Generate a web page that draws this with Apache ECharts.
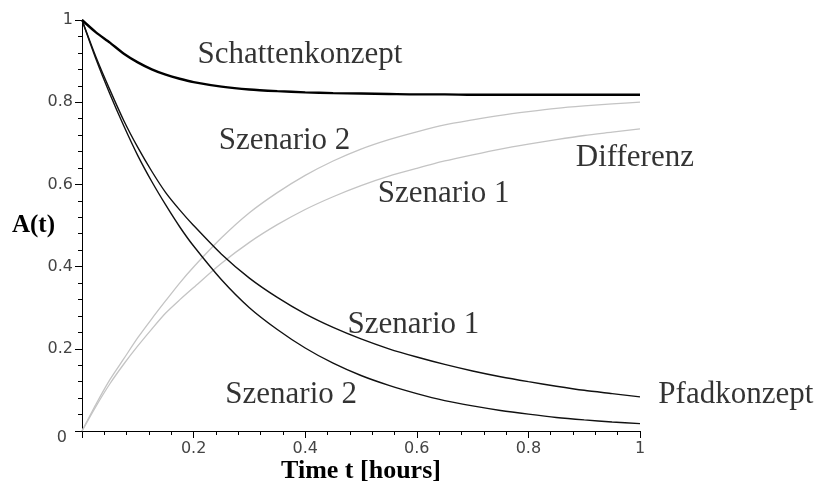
<!DOCTYPE html>
<html>
<head>
<meta charset="utf-8">
<script src="https://cdn.jsdelivr.net/npm/echarts@6/dist/echarts.min.js"></script>
<style>
html,body{margin:0;padding:0;background:#fff;}
#chart{width:820px;height:484px;}
</style>
</head>
<body>
<div id="chart"></div>
<script>
// time grid (hours)
const tValues = [0, 0.025, 0.05, 0.075, 0.1, 0.125, 0.15, 0.175, 0.2, 0.25, 0.3, 0.35, 0.4, 0.45, 0.5, 0.55, 0.6, 0.65, 0.7, 0.75, 0.8, 0.85, 0.9, 0.95, 1.0];
// Schattenkonzept (thick black)
const schatten = [1.0, 0.97, 0.945, 0.918, 0.897, 0.88, 0.867, 0.857, 0.849, 0.838, 0.831, 0.827, 0.824, 0.822, 0.821, 0.820, 0.819, 0.819, 0.818, 0.818, 0.818, 0.818, 0.818, 0.818, 0.818];
// Pfadkonzept Szenario 1 / Szenario 2 (black)
const pfad1 = [1.0, 0.91, 0.83, 0.755, 0.69, 0.632, 0.58, 0.538, 0.50, 0.43, 0.372, 0.325, 0.285, 0.252, 0.224, 0.200, 0.180, 0.162, 0.146, 0.132, 0.120, 0.109, 0.099, 0.091, 0.083];
const pfad2 = [1.0, 0.905, 0.82, 0.742, 0.67, 0.607, 0.55, 0.497, 0.45, 0.368, 0.30, 0.247, 0.202, 0.165, 0.135, 0.111, 0.091, 0.074, 0.061, 0.050, 0.041, 0.033, 0.027, 0.022, 0.018];
// Differenz Szenario 1 / Szenario 2 (grey)
const diff1 = [0, 0.06, 0.115, 0.163, 0.207, 0.248, 0.287, 0.319, 0.349, 0.408, 0.459, 0.502, 0.539, 0.570, 0.597, 0.620, 0.639, 0.657, 0.672, 0.686, 0.698, 0.709, 0.719, 0.727, 0.735];
const diff2 = [0, 0.065, 0.125, 0.176, 0.227, 0.273, 0.317, 0.36, 0.399, 0.47, 0.531, 0.58, 0.622, 0.657, 0.686, 0.709, 0.728, 0.745, 0.757, 0.768, 0.777, 0.785, 0.791, 0.796, 0.80];
// tick labels
const xTickLabels = ['', '0.2', '0.4', '0.6', '0.8', '1'];
const yTickLabels = ['0', '0.2', '0.4', '0.6', '0.8', '1'];
// annotation texts: [t, value (left-middle anchor), text]
const annoT = [0.206, 0.244, 0.529, 0.884, 0.475, 0.256, 1.032];
const annoV = [0.914, 0.707, 0.578, 0.665, 0.259, 0.089, 0.087];
const annoText = ['Schattenkonzept', 'Szenario 2', 'Szenario 1', 'Differenz', 'Szenario 1', 'Szenario 2', 'Pfadkonzept'];

const pairs = arr => tValues.map((t, i) => [t, arr[i]]);
const chart = echarts.init(document.getElementById('chart'), null, {renderer: 'canvas'});

function lineSeries(name, arr, color, width) {
  return {
    name: name, type: 'line', data: pairs(arr), showSymbol: false, symbol: 'none',
    smooth: 0.25, silent: true,
    lineStyle: {color: color, width: width}
  };
}

const option = {
  animation: false,
  backgroundColor: '#ffffff',
  grid: {left: 82, right: 180, top: 20, bottom: 53, containLabel: false, outerBoundsMode: 'none'},
  xAxis: {
    type: 'value', min: 0, max: 1, interval: 0.2,
    name: 'Time t [hours]', nameLocation: 'middle', nameGap: 27, nameMoveOverlap: false,
    nameTextStyle: {fontFamily: 'Liberation Serif', fontWeight: 'bold', fontSize: 26, color: '#000'},
    axisLine: {show: true, onZero: false, lineStyle: {color: '#000', width: 1}},
    axisTick: {show: true, length: 7, lineStyle: {color: '#000'}},
    minorTick: {show: true, splitNumber: 5, length: 4, lineStyle: {color: '#000'}},
    splitLine: {show: false},
    axisLabel: {
      margin: 10, fontFamily: 'DejaVu Sans', fontSize: 16, color: '#444',
      formatter: v => xTickLabels[Math.round(v / 0.2)]
    }
  },
  yAxis: {
    type: 'value', min: 0, max: 1, interval: 0.2,
    name: 'A(t)', nameLocation: 'middle', nameGap: 27, nameRotate: 0, nameMoveOverlap: false,
    nameTextStyle: {fontFamily: 'Liberation Serif', fontWeight: 'bold', fontSize: 25, color: '#000'},
    axisLine: {show: true, onZero: false, lineStyle: {color: '#000', width: 1}},
    axisTick: {show: true, length: 7, lineStyle: {color: '#000'}},
    minorTick: {show: true, splitNumber: 5, length: 4, lineStyle: {color: '#000'}},
    splitLine: {show: false},
    axisLabel: {
      margin: 9, fontFamily: 'DejaVu Sans', fontSize: 16, color: '#444',
      formatter: v => {
        const i = Math.round(v / 0.2);
        return i === 0 ? '{o|' + yTickLabels[0] + '}' : yTickLabels[i];
      },
      rich: {o: {fontFamily: 'DejaVu Sans', fontSize: 16, color: '#444', padding: [14, 6, 0, 0]}}
    }
  },
  series: [
    lineSeries('Differenz Szenario 2', diff2, '#c4c4c4', 1.3),
    lineSeries('Differenz Szenario 1', diff1, '#c4c4c4', 1.3),
    lineSeries('Pfadkonzept Szenario 1', pfad1, '#111', 1.4),
    lineSeries('Pfadkonzept Szenario 2', pfad2, '#111', 1.4),
    lineSeries('Schattenkonzept', schatten, '#000', 2.4),
    {
      name: 'labels', type: 'scatter', clip: false, silent: true,
      symbol: 'circle', symbolSize: 1, itemStyle: {color: 'rgba(0,0,0,0)'},
      data: annoT.map((t, i) => ({value: [t, annoV[i]], name: annoText[i]})),
      label: {
        show: true, position: 'right', distance: 0,
        formatter: p => p.name,
        fontFamily: 'Liberation Serif', fontSize: 31, color: '#000'
      },
      labelLayout: {hideOverlap: false}
    }
  ]
};
chart.setOption(option);
</script>
</body>
</html>
